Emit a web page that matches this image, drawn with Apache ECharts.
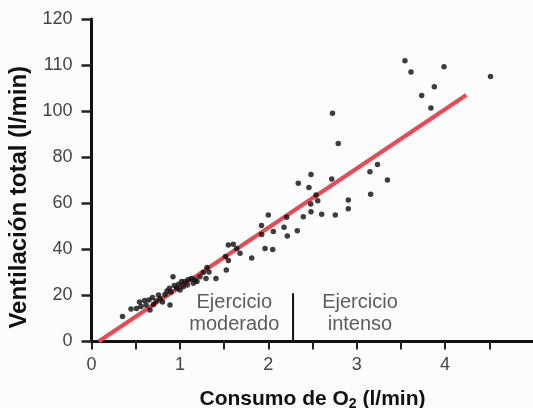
<!DOCTYPE html>
<html>
<head>
<meta charset="utf-8">
<script src="https://cdn.jsdelivr.net/npm/echarts@6/dist/echarts.min.js"></script>
<style>
html,body{margin:0;padding:0;background:#fcfcfc;}
#chart{width:533px;height:408px;}
</style>
</head>
<body>
<div id="chart"></div>
<script>
// O2 consumption (l/min) for each measurement
const o2Consumption = [
  3.546, 3.614, 3.988, 4.514, 3.878, 3.735, 3.840, 2.726, 2.791, 2.483,
  2.717, 3.150, 3.235, 3.348, 2.339, 2.460, 3.158, 2.540, 2.559, 2.480,
  2.905, 2.905, 2.483, 2.604, 2.758, 2.396, 2.208, 2.178, 2.328, 2.215,
  2.000, 1.923, 2.057, 1.925, 1.963, 2.050, 1.812, 1.680, 1.643, 1.548,
  1.604, 1.516, 1.548, 1.525, 1.307, 1.329, 1.408, 1.295, 1.265, 1.227,
  1.193, 1.171, 1.152, 1.133, 1.095, 1.084, 1.058, 1.038, 1.020, 1.001,
  0.986, 0.964, 0.937, 0.922, 0.882, 0.899, 0.888, 0.854, 0.831, 0.803,
  0.775, 0.758, 0.730, 0.701, 0.690, 0.662, 0.650, 0.617, 0.600, 0.560,
  0.543, 0.509, 0.447, 0.351
];
// Total ventilation, on the uniform vertical scale of the printed axis
const totalVentilation = [
  121.9, 117.0, 119.3, 115.0, 110.6, 106.8, 101.4, 99.1, 86.0, 72.5,
  70.5, 73.7, 76.8, 70.1, 68.7, 66.9, 63.9, 63.6, 61.1, 59.7,
  61.4, 57.6, 56.3, 55.2, 54.9, 54.2, 53.9, 49.6, 48.1, 45.8,
  54.9, 50.4, 47.7, 46.4, 40.4, 39.9, 36.2, 38.3, 40.4, 41.9,
  42.2, 36.9, 35.2, 31.0, 32.1, 30.2, 27.3, 27.4, 30.0, 28.1,
  26.0, 26.7, 25.3, 27.4, 26.9, 24.5, 26.0, 23.8, 26.0, 22.4,
  24.8, 23.1, 24.3, 28.1, 23.1, 21.5, 15.8, 21.9, 20.4, 17.1,
  18.7, 20.2, 17.6, 16.1, 19.1, 13.7, 18.0, 15.8, 17.8, 15.2,
  17.1, 14.3, 14.1, 10.9
];
// Regression line end points
const fitX = [0.08, 4.24];
const fitY = [0, 107];
// Divider between moderate and intense exercise
const dividerX = [2.28, 2.28];
const dividerY = [0, 21];
// Zone annotations
const zoneLabels = ['Ejercicio\nmoderado', 'Ejercicio\nintenso'];
const zoneX = [1.615, 3.037];
const zoneY = [12.0, 12.0];
// Axis ticks
const xTickLabelValues = [0, 1, 2, 3, 4];
const yTickValues = [0, 20, 40, 60, 80, 100, 120, 140];
const yTickLabels = ['0', '20', '40', '60', '80', '100', '110', '120'];

const chart = echarts.init(document.getElementById('chart'), null, {renderer: 'canvas'});
const font = '"Liberation Sans", Arial, Helvetica, sans-serif';

const option = {
  backgroundColor: '#fcfcfc',
  animation: false,
  textStyle: {fontFamily: font},
  grid: {left: 91.5, top: 19, width: 442, height: 322.5, containLabel: false, outerBoundsMode: 'none'},
  xAxis: {
    type: 'value', min: 0, max: 5, interval: 0.5,
    splitLine: {show: false},
    axisLine: {show: true, onZero: false, lineStyle: {color: '#111', width: 3}},
    axisTick: {show: true, inside: false, length: 8, lineStyle: {color: '#222', width: 2}},
    axisLabel: {
      margin: 15, fontSize: 18, color: '#444', fontFamily: font,
      formatter: v => xTickLabelValues.includes(v) ? String(v) : ''
    },
    name: '{a|Consumo de O}{s|2}{a| (l/min)}',
    nameLocation: 'middle', nameGap: 46,
    nameTextStyle: {
      rich: {
        a: {fontSize: 21, fontWeight: 'bold', color: '#111', fontFamily: font, lineHeight: 24},
        s: {fontSize: 14, fontWeight: 'bold', color: '#111', fontFamily: font, verticalAlign: 'bottom', lineHeight: 14}
      }
    }
  },
  yAxis: {
    type: 'value', min: 0, max: 140, interval: 20,
    splitLine: {show: false},
    axisLine: {show: true, onZero: false, lineStyle: {color: '#111', width: 3}},
    axisTick: {show: true, inside: false, length: 10, lineStyle: {color: '#222', width: 2.5}},
    axisLabel: {
      margin: 19, fontSize: 18, color: '#444', fontFamily: font,
      formatter: v => { const i = yTickValues.indexOf(v); return i >= 0 ? yTickLabels[i] : ''; }
    },
    name: 'Ventilación total (l/min)',
    nameLocation: 'middle', nameGap: 52,
    nameTextStyle: {fontSize: 24, fontWeight: 'bold', color: '#111', fontFamily: font, padding: [0, 34, 0, 0]}
  },
  series: [
    {
      type: 'line', data: fitX.map((x, i) => [x, fitY[i]]),
      symbol: 'none', lineStyle: {color: '#e64a54', width: 4}, z: 2, silent: true
    },
    {
      type: 'line', data: dividerX.map((x, i) => [x, dividerY[i]]),
      symbol: 'none', lineStyle: {color: '#111', width: 2}, z: 2, silent: true
    },
    {
      type: 'scatter', data: o2Consumption.map((x, i) => [x, totalVentilation[i]]),
      symbol: 'circle', symbolSize: 5.5, itemStyle: {color: '#0d0d0d'}, z: 3
    },
    {
      type: 'scatter', data: zoneX.map((x, i) => [x, zoneY[i], zoneLabels[i]]),
      symbolSize: 0, z: 4,
      label: {
        show: true, position: 'inside', formatter: p => p.value[2],
        fontSize: 20, lineHeight: 22, color: '#333', fontFamily: font, align: 'center'
      }
    }
  ]
};
chart.setOption(option);
</script>
</body>
</html>
